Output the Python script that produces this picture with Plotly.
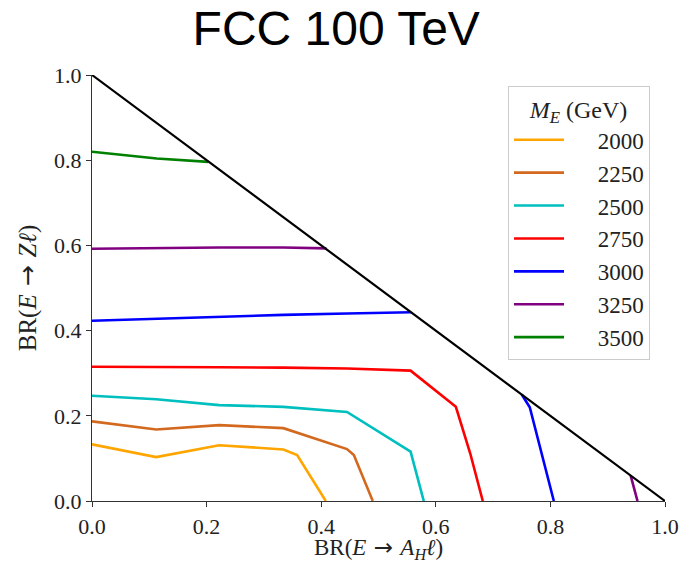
import plotly.graph_objects as go

# Branching-ratio contours: BR(E -> A_H l) on x, BR(E -> Z l) on y, one curve per mass
masses = [2000, 2250, 2500, 2750, 3000, 3250, 3500]
colors = ["#FFA500", "#D2691E", "#00BFBF", "#FF0000", "#0000FF", "#800080", "#008000"]

br_ah_2000 = [0.0, 0.112, 0.222, 0.334, 0.358, 0.408]
br_z_2000 = [0.133, 0.103, 0.131, 0.121, 0.108, 0.0]

br_ah_2250 = [0.0, 0.112, 0.222, 0.334, 0.445, 0.457, 0.49]
br_z_2250 = [0.187, 0.168, 0.178, 0.171, 0.122, 0.108, 0.0]

br_ah_2500 = [0.0, 0.112, 0.222, 0.334, 0.445, 0.556, 0.579]
br_z_2500 = [0.247, 0.239, 0.225, 0.221, 0.209, 0.116, 0.0]

br_ah_2750 = [0.0, 0.112, 0.222, 0.334, 0.445, 0.556, 0.635, 0.66, 0.682]
br_z_2750 = [0.315, 0.315, 0.314, 0.313, 0.311, 0.306, 0.221, 0.112, 0.0]

br_ah_3000 = [0.0, 0.112, 0.222, 0.334, 0.445, 0.557, None, 0.75, 0.764, 0.806]
br_z_3000 = [0.423, 0.428, 0.433, 0.437, 0.44, 0.443, None, 0.25, 0.22, 0.0]

br_ah_3250 = [0.0, 0.112, 0.222, 0.334, 0.409, None, 0.94, 0.952]
br_z_3250 = [0.592, 0.594, 0.595, 0.595, 0.593, None, 0.06, 0.0]

br_ah_3500 = [0.0, 0.113, 0.203]
br_z_3500 = [0.82, 0.804, 0.796]

# Physical boundary BR_AH + BR_Z = 1
boundary_x = [0.0, 1.0]
boundary_y = [1.0, 0.0]

tick_vals = [0.0, 0.2, 0.4, 0.6, 0.8, 1.0]

curves_x = [br_ah_2000, br_ah_2250, br_ah_2500, br_ah_2750, br_ah_3000, br_ah_3250, br_ah_3500]
curves_y = [br_z_2000, br_z_2250, br_z_2500, br_z_2750, br_z_3000, br_z_3250, br_z_3500]

serif = "Liberation Serif"
pad = "\u00a0" * 5
arrow = "<span style='font-family:DejaVu Sans'> → </span>"

fig = go.Figure()
for m, c, xs, ys in zip(masses, colors, curves_x, curves_y):
    fig.add_trace(go.Scatter(x=xs, y=ys, mode="lines", name=pad + str(m),
                             line=dict(color=c, width=2.6), connectgaps=False))

fig.add_trace(go.Scatter(x=boundary_x, y=boundary_y, mode="lines", showlegend=False,
                         line=dict(color="black", width=2.2)))

axis_common = dict(range=[0, 1], tickvals=tick_vals, tickformat=".1f",
                   showgrid=False, zeroline=False, showline=True, automargin=False,
                   linecolor="#333333", linewidth=1.2, ticks="outside",
                   ticklen=5, tickcolor="#333333", tickwidth=1.2,
                   tickfont=dict(family=serif, size=22, color="#222222"))

fig.update_xaxes(**axis_common)
fig.update_yaxes(**axis_common,
                 title=dict(text="BR(<i>E</i>" + arrow + "<i>Zℓ</i>)",
                            font=dict(family=serif, size=25, color="#222222"), standoff=10))

# x-axis title placed as a paper annotation below the tick labels
fig.add_annotation(text="BR(<i>E</i>" + arrow + "<i>A</i><sub><i>H</i></sub><i>ℓ</i>)",
                   xref="paper", yref="paper", x=0.5, y=-0.112,
                   xanchor="center", yanchor="middle", showarrow=False,
                   font=dict(family=serif, size=23, color="#222222"))

fig.update_layout(
    width=682, height=563,
    margin=dict(l=92, r=17, t=75, b=62),
    plot_bgcolor="white", paper_bgcolor="white",
    title=dict(text="FCC 100 TeV", x=0.493, xref="container", y=0.95, yref="container",
               xanchor="center", yanchor="middle",
               font=dict(family="Liberation Sans", size=48, color="black")),
    legend=dict(x=0.726, y=0.974, xanchor="left", yanchor="top", itemwidth=50,
                bgcolor="rgba(255,255,255,0.9)", bordercolor="#cccccc", borderwidth=1,
                font=dict(family=serif, size=23, color="#222222"),
                title=dict(text="<i>M</i><sub><i>E</i></sub> (GeV)", side="top center",
                           font=dict(family=serif, size=24, color="#222222"))),
)

fig.write_html("out.html")
